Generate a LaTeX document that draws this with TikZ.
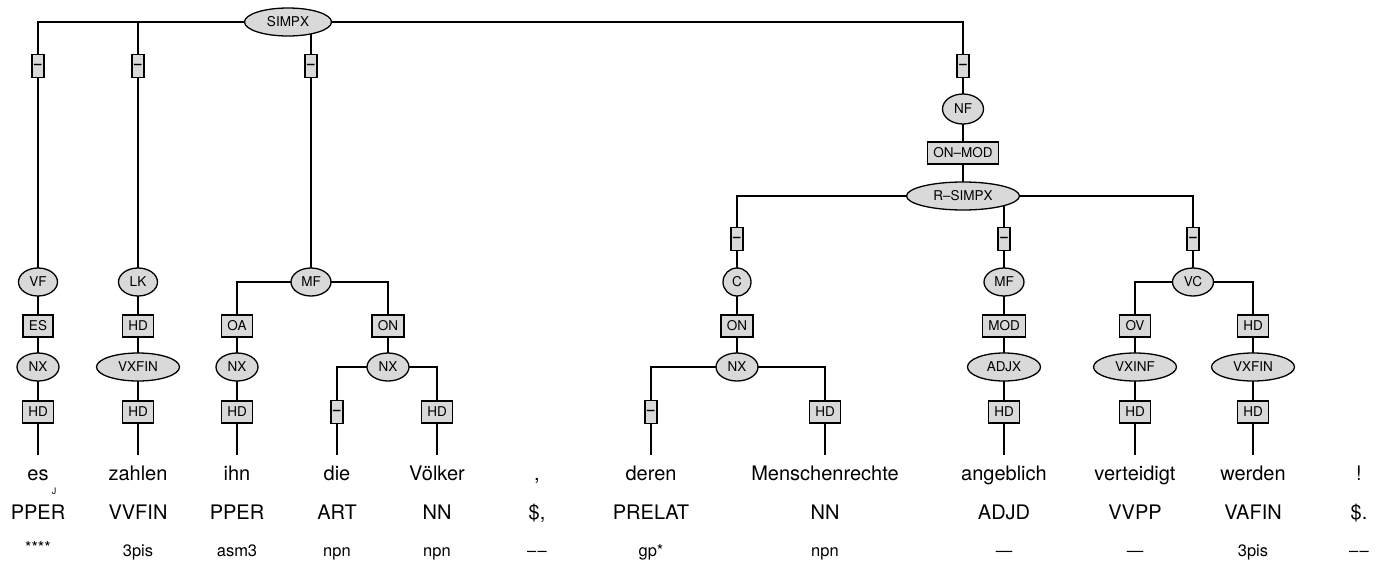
\documentclass[tikz,border=0pt]{standalone}
\usepackage{fontspec}
\setmainfont{TeX Gyre Heros}
\usetikzlibrary{shapes.geometric}
\pgfdeclarelayer{bg}
\pgfsetlayers{bg,main}
\definecolor{nodegray}{HTML}{D9D9D9}
\newcommand{\dsh}{\textbf{–}}
\newcommand{\ddsh}{–\kern1.5pt–}
\tikzset{
  x=1pt, y=-1pt,
  ell/.style={ellipse, draw, fill=nodegray, line width=1.3pt, inner sep=0pt, minimum height=28pt, font=\fontsize{13.5}{14}\selectfont},
  circ/.style={circle, draw, fill=nodegray, line width=1.3pt, inner sep=0pt, minimum size=28pt, font=\fontsize{13.5}{14}\selectfont},
  lab/.style={rectangle, draw, fill=nodegray, line width=1.3pt, inner xsep=6pt, inner ysep=0pt, minimum height=22pt, font=\fontsize{13.5}{14}\selectfont},
  dbox/.style={lab, inner xsep=2.2pt, minimum height=23pt},
  word/.style={anchor=base, inner xsep=0pt, inner ysep=9pt, text height=16pt, text depth=5pt, font=\fontsize{20}{22}\selectfont},
  postag/.style={anchor=base, inner sep=0pt, font=\fontsize{20}{22}\selectfont},
  morph/.style={anchor=base, inner sep=0pt, font=\fontsize{16.5}{18}\selectfont},
  edge/.style={line width=1.3pt, line join=miter},
}
\begin{document}
\begin{tikzpicture}
\useasboundingbox (0,0) rectangle (1382,562);
% top
\node[ell, minimum width=87pt] (simpx) at (288,22) {SIMPX};
% column es
\node[dbox] (d1) at (38,66) {\dsh};
\node[ell, minimum width=39pt] (vf) at (38,282) {VF};
\node[lab] (es) at (38,326) {ES};
\node[ell, minimum width=42pt] (nx1) at (38,367) {NX};
\node[lab] (hd1) at (38,412) {HD};
% column zahlen
\node[dbox] (d2) at (138,66) {\dsh};
\node[ell, minimum width=39pt] (lk) at (138,282) {LK};
\node[lab] (hd2a) at (138,326) {HD};
\node[ell, minimum width=83pt] (vxfin1) at (138,367) {VXFIN};
\node[lab] (hd2) at (138,412) {HD};
% MF
\node[dbox] (d3) at (311,66) {\dsh};
\node[ell, minimum width=40pt] (mf1) at (311,282) {MF};
\node[lab] (oa) at (237,326) {OA};
\node[ell, minimum width=42pt] (nx2) at (237,367) {NX};
\node[lab] (hd3) at (237,412) {HD};
\node[lab] (on1) at (388,326) {ON};
\node[ell, minimum width=42pt] (nx3) at (388,367) {NX};
\node[dbox] (d5) at (337,412) {\dsh};
\node[lab] (hd5) at (437,412) {HD};
% NF
\node[dbox] (d4) at (963,66) {\dsh};
\node[ell, minimum width=41pt, minimum height=30pt] (nf) at (963,109) {NF};
\node[lab] (onmod) at (963,153) {ON–MOD};
\node[ell, minimum width=113pt] (rsimpx) at (963,196) {R–SIMPX};
\node[dbox] (d6) at (737,239) {\dsh};
\node[circ] (c) at (737,282) {C};
\node[lab] (on2) at (737,326) {ON};
\node[ell, minimum width=42pt] (nx4) at (737,367) {NX};
\node[dbox] (d7) at (651,412) {\dsh};
\node[lab] (hd7) at (825,412) {HD};
\node[dbox] (d8) at (1004,239) {\dsh};
\node[ell, minimum width=40pt] (mf2) at (1004,282) {MF};
\node[lab] (mod) at (1004,326) {MOD};
\node[ell, minimum width=73pt] (adjx) at (1004,367) {ADJX};
\node[lab] (hd8) at (1004,412) {HD};
\node[dbox] (d9) at (1193,239) {\dsh};
\node[ell, minimum width=41pt] (vc) at (1193,282) {VC};
\node[lab] (ov) at (1135,326) {OV};
\node[ell, minimum width=83pt] (vxinf) at (1135,367) {VXINF};
\node[lab] (hd9) at (1135,412) {HD};
\node[lab] (hd10a) at (1253,326) {HD};
\node[ell, minimum width=83pt] (vxfin2) at (1253,367) {VXFIN};
\node[lab] (hd10) at (1253,412) {HD};
% words
\node[word] (w1) at (38,480) {es};
\node[word] (w2) at (138,480) {zahlen};
\node[word] (w3) at (237,480) {ihn};
\node[word] (w4) at (337,480) {die};
\node[word] (w5) at (437,480) {Völker};
\node[word] (w6) at (537,480) {,};
\node[word] (w7) at (651,480) {deren};
\node[word] (w8) at (825,480) {Menschenrechte};
\node[word] (w9) at (1004,480) {angeblich};
\node[word] (w10) at (1135,480) {verteidigt};
\node[word] (w11) at (1253,480) {werden};
\node[word] (w12) at (1359,480) {!};
\node[inner sep=0pt, font=\fontsize{9}{10}\selectfont] (mk) at (54,491) {J};
% POS
\node[postag] (p1) at (38,519) {PPER};
\node[postag] (p2) at (138,519) {VVFIN};
\node[postag] (p3) at (237,519) {PPER};
\node[postag] (p4) at (337,519) {ART};
\node[postag] (p5) at (437,519) {NN};
\node[postag] (p6) at (537,519) {\$,};
\node[postag] (p7) at (651,519) {PRELAT};
\node[postag] (p8) at (825,519) {NN};
\node[postag] (p9) at (1004,519) {ADJD};
\node[postag] (p10) at (1135,519) {VVPP};
\node[postag] (p11) at (1253,519) {VAFIN};
\node[postag] (p12) at (1359,519) {\$.};
% morph
\node[morph] (m1) at (38,553) {****};
\node[morph] (m2) at (138,556) {3pis};
\node[morph] (m3) at (237,556) {asm3};
\node[morph] (m4) at (337,556) {npn};
\node[morph] (m5) at (437,556) {npn};
\node[morph] (m6) at (537,556) {\ddsh};
\node[morph] (m7) at (651,556) {gp*};
\node[morph] (m8) at (825,556) {npn};
\node[morph] (m9) at (1004,556) {—};
\node[morph] (m10) at (1135,556) {—};
\node[morph] (m11) at (1253,556) {3pis};
\node[morph] (m12) at (1359,556) {\ddsh};
% edges
\begin{pgfonlayer}{bg}
\draw[edge] (simpx.center) -| (d1.center);
\draw[edge] (simpx.center) -| (d2.center);
\draw[edge] (simpx.center) -| (d3.center);
\draw[edge] (simpx.center) -| (d4.center);
\draw[edge] (d1.center) -- (vf.center) -- (es.center) -- (nx1.center) -- (hd1.center) -- (w1.north);
\draw[edge] (d2.center) -- (lk.center) -- (hd2a.center) -- (vxfin1.center) -- (hd2.center) -- (w2.north);
\draw[edge] (d3.center) -- (mf1.center);
\draw[edge] (mf1.center) -| (oa.center);
\draw[edge] (mf1.center) -| (on1.center);
\draw[edge] (oa.center) -- (nx2.center) -- (hd3.center) -- (w3.north);
\draw[edge] (on1.center) -- (nx3.center);
\draw[edge] (nx3.center) -| (d5.center);
\draw[edge] (nx3.center) -| (hd5.center);
\draw[edge] (d5.center) -- (w4.north);
\draw[edge] (hd5.center) -- (w5.north);
\draw[edge] (d4.center) -- (nf.center) -- (onmod.center) -- (rsimpx.center);
\draw[edge] (rsimpx.center) -| (d6.center);
\draw[edge] (rsimpx.center) -| (d9.center);
\draw[edge] (d8.center) -- (d8 |- rsimpx.center);
\draw[edge] (d6.center) -- (c.center) -- (on2.center) -- (nx4.center);
\draw[edge] (nx4.center) -| (d7.center);
\draw[edge] (nx4.center) -| (hd7.center);
\draw[edge] (d7.center) -- (w7.north);
\draw[edge] (hd7.center) -- (w8.north);
\draw[edge] (d8.center) -- (mf2.center) -- (mod.center) -- (adjx.center) -- (hd8.center) -- (w9.north);
\draw[edge] (d9.center) -- (vc.center);
\draw[edge] (vc.center) -| (ov.center);
\draw[edge] (vc.center) -| (hd10a.center);
\draw[edge] (ov.center) -- (vxinf.center) -- (hd9.center) -- (w10.north);
\draw[edge] (hd10a.center) -- (vxfin2.center) -- (hd10.center) -- (w11.north);
\end{pgfonlayer}
\end{tikzpicture}
\end{document}
